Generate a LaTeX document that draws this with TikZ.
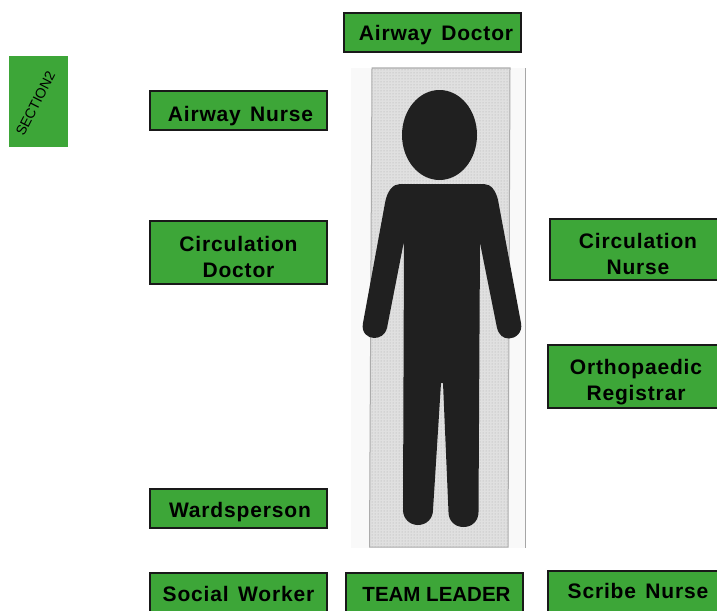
\documentclass[tikz,border=0pt]{standalone}
\usepackage{fontspec}
\setmainfont{Liberation Sans}
\newfontfamily\rolefont[LetterSpace=4,WordSpace=1.4]{Liberation Sans}
\usepackage{tikz}
\usetikzlibrary{patterns}
\definecolor{teamgreen}{RGB}{61,166,56}
\definecolor{figdark}{RGB}{32,32,32}
\newcommand{\rolesp}[1]{\rule{0pt}{#1pt}}
\tikzset{
  rolebox/.style={draw=black!90,line width=2pt,fill=teamgreen,inner sep=0pt,align=center,
    font=\fontsize{21}{26}\selectfont\rolefont\bfseries},
}
\begin{document}
\begin{tikzpicture}[x=1pt,y=-1pt]
\clip (0,0) rectangle (717,610);
% backing sheet
\fill[gray!5] (351,68) rectangle (525,548);
\draw[gray!70,line width=1pt] (525,68) -- (525,548);
\fill[gray!24] (372,68) -- (510,68) -- (508,547) -- (369.5,547) -- cycle;
\fill[pattern=dots,pattern color=gray!65] (372,68) -- (510,68) -- (508,547) -- (369.5,547) -- cycle;
\draw[gray!65,line width=1pt] (372,68) -- (510,68) -- (508,547) -- (369.5,547) -- cycle;
% figure
\fill[figdark] (439.5,135) ellipse (37.5 and 45);
\fill[figdark] (400,184) -- (484,184) .. controls (491,184) and (496,191) .. (498,200)
  -- (521,323) .. controls (523,333) and (515,338.5) .. (509,338.5) .. controls (503,338.5) and (499,335) .. (497,328)
  -- (480,243) -- (478.5,512) .. controls (478.5,521) and (472,527) .. (463.5,527) .. controls (455,527) and (448.5,521) .. (448.5,512)
  -- (443,383) -- (441,383) -- (433,510) .. controls (433,519) and (426,525) .. (418,525) .. controls (410,525) and (403,519) .. (403,510)
  -- (404,241) -- (387,328) .. controls (385,335) and (380,338) .. (374,338) .. controls (368,338) and (361,333) .. (363,323)
  -- (385,203) .. controls (387,191) and (393,184) .. (400,184) -- cycle;
% section tab
\fill[teamgreen] (9,56) rectangle (68,147);
\node[rotate=63,font=\fontsize{14}{16}\selectfont] (section) at (35.5,103.5) {SECTION2};
% team roles
\node[rolebox,minimum width=177,minimum height=39] (airwaydoctor) at (432.5,32.5) {\rolesp{20}\hspace{7pt}Airway Doctor};
\node[rolebox,minimum width=177,minimum height=39] (airwaynurse) at (238.5,110.5) {\rolesp{26}\hspace{4pt}Airway Nurse};
\node[rolebox,minimum width=177,minimum height=63] (circdoctor) at (238.5,252.5) {\rolesp{24}Circulation\\Doctor};
\node[rolebox,minimum width=177,minimum height=61] (circnurse) at (638,249.5) {\rolesp{25}Circulation\\Nurse};
\node[rolebox,minimum width=177,minimum height=63] (orthoreg) at (636,376.5) {\rolesp{27}Orthopaedic\\Registrar};
\node[rolebox,minimum width=177,minimum height=39] (wardsperson) at (238.5,508.5) {\rolesp{22}\hspace{3pt}Wardsperson};
\node[rolebox,minimum width=177,minimum height=43] (socialworker) at (238.5,594) {Social Worker};
\node[rolebox,minimum width=177,minimum height=43,font=\fontsize{20.5}{26}\selectfont\rmfamily\bfseries] (teamleader) at (434.5,594) {\hspace{4pt}TEAM LEADER};
\node[rolebox,minimum width=181,minimum height=41] (scribenurse) at (638,591) {Scribe Nurse};
\end{tikzpicture}
\end{document}
